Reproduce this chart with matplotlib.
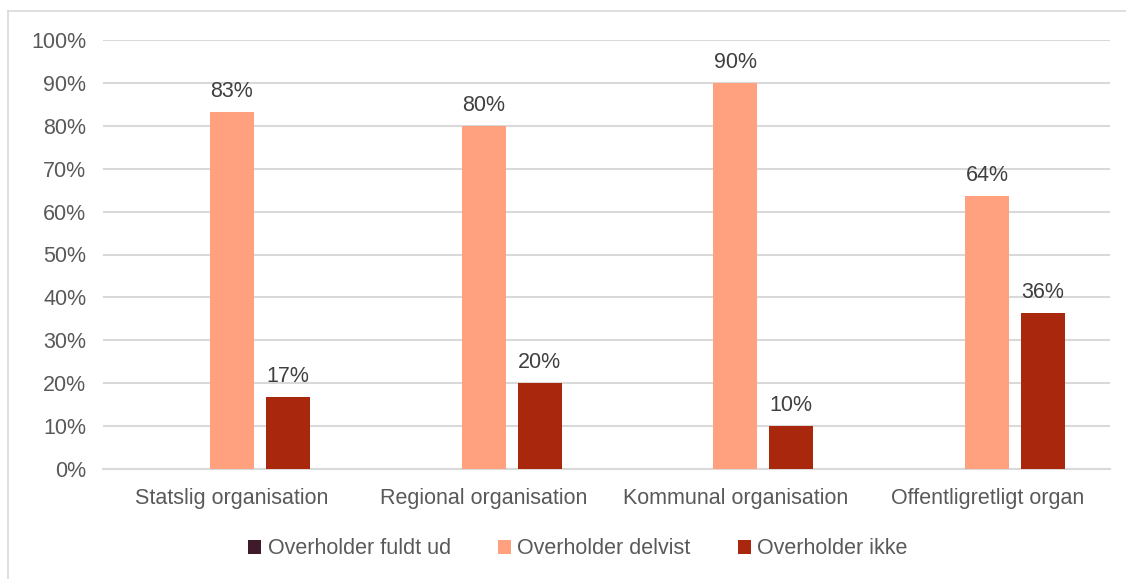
import numpy as np
import matplotlib.pyplot as plt

categories = ['Statslig organisation', 'Regional organisation', 'Kommunal organisation', 'Offentligretligt organ']
series = ['Overholder fuldt ud', 'Overholder delvist', 'Overholder ikke']
fuldt = [0, 0, 0, 0]
delvist = [83.3, 80.0, 90.0, 63.6]
ikke = [16.7, 20.0, 10.0, 36.4]
colors = ['#3f1a2b', '#ffa07f', '#a8270d']

plt.rcParams['font.family'] = ['Liberation Sans', 'DejaVu Sans']
txt = '#595959'
fs = 15.5

fig = plt.figure(figsize=(11.26, 5.79), dpi=100)
ax = fig.add_axes([103/1126, 1-469/579, (1110-103)/1126, (469-40)/579])

# figure border (left + top only visible)
fig.add_artist(plt.Line2D([8/1126, 8/1126], [0, 1-11/579], color='#d9d9d9', lw=1.2, transform=fig.transFigure))
fig.add_artist(plt.Line2D([8/1126, 1], [1-11/579, 1-11/579], color='#d9d9d9', lw=1.2, transform=fig.transFigure))

x = np.arange(len(categories))
w = 0.175
step = 0.222
for i, (vals, c, name) in enumerate(zip([fuldt, delvist, ikke], colors, series)):
    bars = ax.bar(x + (i - 1) * step, vals, w, color=c, label=name, zorder=3)
    if i > 0:
        for b, v in zip(bars, vals):
            ax.text(b.get_x() + b.get_width() / 2, v + 2.3, f'{round(v):.0f}%',
                    ha='center', va='bottom', fontsize=fs, color='#404040')

ax.set_xlim(-0.512, len(categories) - 0.512)
ax.set_ylim(0, 100)
ax.set_yticks(range(0, 101, 10))
ax.set_yticklabels([f'{t}%' for t in range(0, 101, 10)])
ax.set_xticks(x)
ax.set_xticklabels(categories)
ax.tick_params(axis='both', length=0, labelsize=fs, labelcolor=txt)
ax.tick_params(axis='y', pad=12)
ax.tick_params(axis='x', pad=14)
ax.grid(axis='y', color='#d9d9d9', lw=1.5, zorder=0)
for s in ['top', 'right', 'left']:
    ax.spines[s].set_visible(False)
ax.spines['bottom'].set_color('#d9d9d9')
ax.spines['bottom'].set_linewidth(1.5)

leg = fig.legend(loc='center', bbox_to_anchor=(578/1126, 1-549/579), ncol=3, frameon=False,
                 fontsize=fs, handlelength=0.6, handleheight=0.6, handletextpad=0.3, columnspacing=2.2)
for t in leg.get_texts():
    t.set_color(txt)

fig.savefig('out.png', dpi=100)
